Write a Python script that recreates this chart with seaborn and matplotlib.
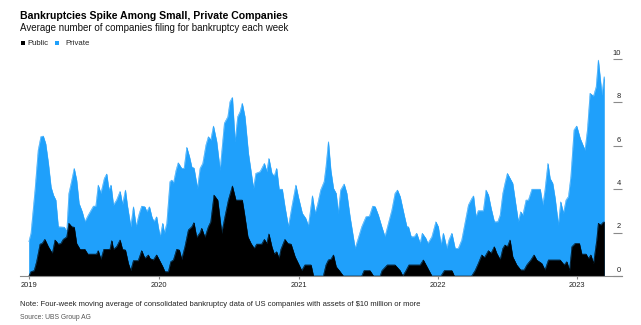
import numpy as np
import pandas as pd
import matplotlib
matplotlib.use("Agg")
import matplotlib.pyplot as plt
import matplotlib.transforms as mtransforms
from matplotlib.patches import Rectangle
import seaborn as sns

# Weekly series, positioned by weeks elapsed since 2019-01-01
private_weeks = [3.3, 4.1, 5.6, 6.8, 7.8, 8.7, 9.6, 10.6, 11.6, 12.5, 13.4, 14.3, 16.6, 17.5, 18.3,
                 19.4, 20.3, 21.2, 22.1, 23.3, 24.3, 25.6, 27.5, 28.4, 29.3, 30.3, 31.6, 32.5, 33.3,
                 34.1, 35.0, 36.2, 37.5, 38.4, 39.5, 40.2, 41.5, 42.5, 43.5, 44.7, 45.6, 46.8, 47.5,
                 48.5, 49.4, 50.2, 51.2, 51.8, 52.5, 53.5, 54.1, 55.0, 56.2, 56.9, 57.5, 58.5, 59.3,
                 60.6, 61.5, 62.5, 63.5, 64.4, 65.2, 66.5, 67.5, 68.5, 69.7, 70.6, 71.5, 72.5, 73.7,
                 75.0, 76.6, 77.9, 78.7, 79.6, 80.6, 81.6, 82.5, 83.3, 84.3, 85.6, 86.6, 87.5, 88.4,
                 90.0, 91.6, 92.5, 93.3, 94.4, 95.3, 96.2, 97.1, 98.3, 99.3, 100.6, 101.9, 103.4,
                 104.3, 105.8, 107.1, 108.1, 109.6, 110.6, 111.5, 112.7, 114.0, 114.7, 115.6, 116.5,
                 117.5, 118.5, 119.3, 120.2, 121.5, 122.5, 123.7, 124.7, 125.6, 126.8, 128.1, 129.7,
                 131.0, 132.2, 133.1, 134.3, 135.6, 136.8, 138.1, 139.4, 140.6, 141.5, 142.5, 144.0,
                 145.0, 145.6, 146.6, 147.8, 148.7, 150.0, 150.8, 152.1, 152.9, 154.4, 155.9, 156.8,
                 157.8, 158.7, 160.0, 160.8, 161.9, 163.1, 164.3, 165.6, 166.8, 168.1, 169.4, 170.0,
                 170.9, 171.8, 173.7, 174.7, 175.6, 176.6, 177.8, 179.1, 180.0, 181.0, 181.8, 182.7,
                 183.7, 184.7, 185.6, 186.8, 187.7, 188.5, 189.7, 190.6, 191.9, 195.0, 196.0, 196.8,
                 197.9, 198.7, 199.7, 200.6, 201.8, 202.7, 203.7, 204.7, 205.6, 206.5, 207.7, 208.7,
                 210.0, 211.8, 212.7, 213.7, 215.0, 216.0, 216.8, 217.7, 218.1, 219.0]
private_values = [1.58, 1.97, 3.96, 5.8, 6.42, 6.45, 6.1, 5.2, 4.1, 3.73, 3.5, 2.27, 2.25, 2.04, 3.8,
                  4.42, 4.96, 4.42, 3.35, 2.96, 2.5, 2.81, 3.22, 3.22, 4.19, 3.81, 4.5, 4.7, 3.96,
                  4.19, 3.27, 3.5, 3.9, 3.3, 3.96, 3.27, 2.27, 3.19, 2.27, 2.89, 3.22, 3.19, 2.96,
                  3.19, 2.73, 2.5, 2.73, 2.27, 1.81, 2.43, 1.97, 2.43, 4.35, 4.42, 4.27, 4.88, 5.22,
                  4.96, 4.96, 5.93, 5.5, 5.01, 4.98, 4.04, 4.96, 5.19, 6.04, 6.42, 6.27, 6.91, 6.2,
                  4.88, 7.04, 7.34, 8.03, 8.23, 6.19, 7.34, 7.57, 7.96, 7.34, 5.65, 4.81, 4.04, 4.73,
                  4.81, 5.19, 4.81, 5.42, 4.73, 4.61, 4.96, 4.0, 4.0, 3.19, 2.27, 3.19, 4.19,
                  3.66, 2.89, 2.66, 2.3, 3.7, 2.89, 3.27, 3.96, 4.35, 5.04, 6.19, 4.88,
                  4.04, 3.81, 2.89, 3.96, 4.24, 3.81, 2.73, 1.97, 1.27, 1.74, 2.27, 2.73,
                  2.76, 3.22, 3.2, 2.81, 2.27, 1.81, 2.43, 3.04, 3.81, 3.96, 3.66, 2.81,
                  2.27, 2.27, 1.81, 1.81, 1.97, 1.5, 1.97, 1.74, 1.5, 1.81, 2.5, 2.27,
                  1.43, 1.97, 1.27, 1.66, 1.97, 1.27, 1.27, 1.66, 2.43, 3.27, 3.58, 3.69,
                  2.73, 3.01, 3.01, 3.96, 3.73, 3.12, 2.5, 2.5, 2.81, 3.81, 4.27, 4.73,
                  4.5, 4.27, 3.5, 2.5, 2.96, 2.81, 3.5, 3.5, 4.0, 4.0, 3.27, 3.96,
                  5.19, 4.5, 4.27, 3.58, 2.35, 3.42, 2.89, 3.5, 3.66, 4.58, 6.73, 6.91,
                  6.34, 5.8, 6.73, 8.42, 8.29, 8.72, 9.95, 8.88, 8.34, 9.19]

public_weeks = [3.3, 4.1, 5.3, 6.2, 7.5, 8.3, 9.3, 10.6, 12.1, 13.1,
                13.7, 14.3, 15.3, 16.2, 17.5, 18.3, 19.4, 20.3, 21.2, 22.5,
                24.3, 25.4, 28.7, 29.3, 30.3, 31.4, 33.7, 34.4, 35.0, 36.2,
                37.5, 38.4, 39.5, 40.6, 41.5, 42.5, 44.3, 45.6, 46.8, 48.1,
                48.7, 50.0, 51.2, 52.2, 53.5, 54.3, 55.6, 56.5, 57.5, 58.7,
                59.7, 60.6, 61.8, 63.1, 64.4, 65.2, 66.2, 67.5, 68.1, 69.3,
                70.6, 71.5, 72.7, 74.1, 75.6, 76.8, 78.1, 79.6, 80.9, 83.3,
                84.1, 85.4, 86.6, 87.8, 88.7, 90.6, 91.6, 92.5, 93.3, 94.4,
                95.3, 96.2, 97.1, 97.8, 99.3, 100.4, 101.6, 103.1, 104.6, 105.6,
                106.8, 109.1, 110.0, 113.7, 114.7, 115.6, 116.6, 117.5, 118.5, 119.7,
                121.2, 128.1, 129.0, 131.2, 132.5, 135.0, 135.7, 137.7, 140.6, 142.5,
                143.5, 144.7, 145.8, 150.0, 151.2, 154.4, 157.8, 159.1, 161.9, 162.8,
                169.3, 170.6, 171.8, 173.1, 174.1, 175.6, 176.6, 177.8, 178.7, 180.0,
                181.0, 181.8, 182.7, 183.7, 184.7, 186.2, 187.7, 189.0, 190.0, 191.5,
                192.7, 193.7, 195.6, 196.8, 198.1, 202.5, 204.0, 205.0, 206.0, 206.9,
                208.1, 209.7, 210.6, 212.2, 213.1, 214.0, 215.0, 216.2, 216.8, 217.7,
                218.5, 219.0]
public_values = [0, 0.2, 0.25, 0.66, 1.47, 1.5, 1.69, 1.35, 1.04, 1.66,
                 1.58, 1.47, 1.5, 1.69, 1.8, 2.43, 2.27, 2.25, 1.5, 1.23,
                 1.23, 1.01, 1.01, 1.17, 0.77, 1.23, 1.23, 1.63, 1.23, 1.35,
                 1.66, 1.23, 1.2, 0.58, 0.25, 0.71, 0.71, 1.17, 0.81, 0.97,
                 0.81, 0.74, 0.97, 0.74, 0.43, 0.2, 0.2, 0.66, 0.74, 1.23,
                 1.2, 0.77, 1.35, 2.12, 2.27, 2.46, 1.78, 2.0, 2.2, 1.78,
                 2.27, 2.5, 3.73, 3.5, 1.97, 2.73, 3.5, 4.15, 3.5, 3.5,
                 2.89, 1.81, 1.5, 1.27, 1.47, 1.47, 1.69, 1.5, 1.94, 1.35,
                 1.01, 1.12, 0.81, 1.23, 1.69, 1.5, 1.47, 0.89, 0.51, 0.25,
                 0.51, 0.51, 0, 0, 0.51, 0.74, 0.78, 0.97, 0.43, 0.25,
                 0, 0, 0.25, 0.25, 0, 0, 0.25, 0.51, 0.51, 0.25,
                 0, 0.25, 0.51, 0.51, 0.74, 0, 0, 0.25, 0.25, 0,
                 0, 0.25, 0.58, 0.97, 0.85, 1.17, 1.05, 1.35, 1.05, 0.75,
                 1.27, 1.43, 1.35, 1.66, 0.89, 0.51, 0.28, 0.28, 0.51, 0.74,
                 0.97, 0.74, 0.58, 0.28, 0.74, 0.74, 0.51, 0.66, 0.25, 1.35,
                 1.5, 1.5, 1.01, 1.01, 0.81, 0.97, 0.58, 1.66, 2.43, 2.35,
                 2.46, 2.5]

year_labels = ["2019", "2020", "2021", "2022", "2023"]
y_ticks = [0, 2, 4, 6, 8, 10]

TITLE = "Bankruptcies Spike Among Small, Private Companies"
SUBTITLE = "Average number of companies filing for bankruptcy each week"
NOTE = ("Note: Four-week moving average of consolidated bankruptcy data of US companies "
        "with assets of $10 million or more")
SOURCE = "Source: UBS Group AG"

BLUE = "#1fa0fb"
BLACK = "#000000"
AXIS_GREY = "#8a8a8a"

START = pd.Timestamp("2019-01-01")


def week_dates(weeks):
    return START + pd.to_timedelta(np.asarray(weeks, dtype=float) * 7, unit="D")


private_df = pd.DataFrame({"date": week_dates(private_weeks), "value": private_values})
public_df = pd.DataFrame({"date": week_dates(public_weeks), "value": public_values})

sns.set_theme(style="white")
plt.rcParams["font.family"] = ["Liberation Sans", "DejaVu Sans"]

W, H = 641, 325
fig = plt.figure(figsize=(W / 100, H / 100), dpi=100)


def fx(px):
    return px / W


def fy(py):
    return 1 - py / H


ax_left, ax_right, ax_base = 20, 622, 276
px_per_unit = 21.7
y_top = 10.5
ax = fig.add_axes([fx(ax_left), fy(ax_base), fx(ax_right - ax_left), y_top * px_per_unit / H])

# Areas: private (blue) behind, public (black) in front
ax.fill_between(private_df["date"], 0, private_df["value"], color=BLUE, lw=0.3, ec=BLUE, zorder=2)
ax.fill_between(public_df["date"], 0, public_df["value"], color=BLACK, lw=0.3, ec=BLACK, zorder=3)
sns.lineplot(data=private_df, x="date", y="value", color=BLUE, lw=0.4, ax=ax, zorder=2)
sns.lineplot(data=public_df, x="date", y="value", color=BLACK, lw=0.4, ax=ax, zorder=3)

ax.set_xlim(START, START + pd.Timedelta(days=225.7 * 7))
ax.set_ylim(0, y_top)
ax.set_xlabel("")
ax.set_ylabel("")

# x ticks: first data week, then each new year
tick_dates = [private_df["date"].iloc[0]] + [pd.Timestamp(f"{y}-01-01") for y in year_labels[1:]]
ax.set_xticks(tick_dates)
ax.set_xticklabels(year_labels)
ax.tick_params(axis="x", direction="out", length=2.3, width=0.8, color=AXIS_GREY,
               pad=2.2, labelsize=5.4, labelcolor="#222222", bottom=True)

# y ticks on the right, drawn inward with labels sitting above each line
ax.set_yticks(y_ticks)
ax.yaxis.tick_right()
ax.tick_params(axis="y", direction="in", length=6.8, width=0.8, color=AXIS_GREY,
               right=True, left=False, labelright=False, labelleft=False)
trans = mtransforms.blended_transform_factory(ax.transAxes, ax.transData)
for v in y_ticks:
    ax.annotate(str(v), xy=(1, v), xycoords=trans, xytext=(-0.8, 3.0),
                textcoords="offset points", ha="right", va="baseline",
                fontsize=5.4, color="#222222", annotation_clip=False)

sns.despine(ax=ax, left=True, top=True, right=True)
ax.spines["bottom"].set_color(AXIS_GREY)
ax.spines["bottom"].set_linewidth(0.8)
ax.spines["bottom"].set_zorder(5)
ax.grid(False)
ax.set_facecolor("white")

# Header
fig.text(fx(20), fy(19), TITLE, fontsize=7.6, fontweight="bold", color="#000000", va="baseline")
fig.text(fx(20), fy(31.3), SUBTITLE, fontsize=7.0, color="#111111", va="baseline")

# Legend
fig.add_artist(Rectangle((fx(20.7), fy(45)), fx(4.3), 4.3 / H, transform=fig.transFigure,
                         color=BLACK, lw=0))
fig.text(fx(27.7), fy(45), "Public", fontsize=5.6, color="#222222", va="baseline")
fig.add_artist(Rectangle((fx(55), fy(45)), fx(4.3), 4.3 / H, transform=fig.transFigure,
                         color=BLUE, lw=0))
fig.text(fx(65), fy(45), "Private", fontsize=5.6, color="#222222", va="baseline")

# Footer
fig.text(fx(20), fy(306.3), NOTE, fontsize=5.5, color="#222222", va="baseline")
fig.text(fx(20), fy(319.3), SOURCE, fontsize=4.9, color="#555555", va="baseline")

fig.savefig("out.png", dpi=100)
